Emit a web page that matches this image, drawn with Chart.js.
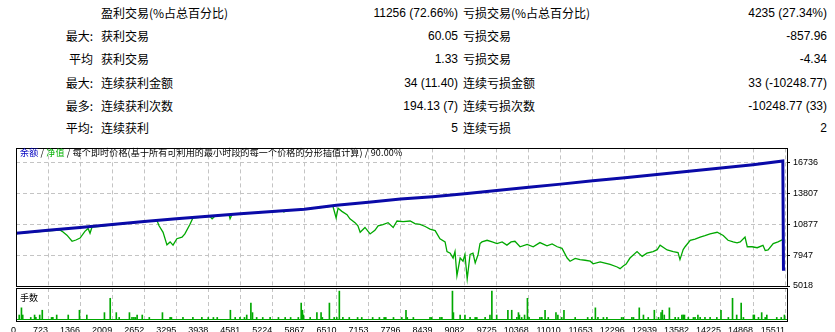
<!DOCTYPE html>
<html><head><meta charset="utf-8">
<script src="https://cdn.jsdelivr.net/npm/chart.js@4.4.1/dist/chart.umd.min.js"></script>
<style>
html,body{margin:0;padding:0;background:#fff;}
body{width:835px;height:332px;position:relative;overflow:hidden;}
.t{position:absolute;height:16px;line-height:16px;white-space:nowrap;color:#000;}
.cjk{font-family:"Noto Sans CJK SC",sans-serif;font-size:12px;}
.num{font-family:"Liberation Sans",sans-serif;font-size:12px;}
#legend{position:absolute;left:20px;top:147px;font-family:"Noto Sans CJK SC",sans-serif;font-size:9px;letter-spacing:0.15px;line-height:11px;color:#000;white-space:nowrap;z-index:5;}
#legend .b{color:#0000c0}
#legend .g{color:#00b000}
#lots{position:absolute;left:20px;top:292px;font-family:"Noto Sans CJK SC",sans-serif;font-size:9px;line-height:11px;color:#000;z-index:5;}
#mainBox{position:absolute;left:0;top:140px;width:835px;height:156px;}
#subBox{position:absolute;left:0;top:284px;width:835px;height:48px;}
canvas{display:block;}
</style></head>
<body>
<div id="stats"></div>
<div id="mainBox"><canvas id="mainC" width="835" height="156"></canvas></div>
<div id="subBox"><canvas id="subC" width="835" height="48"></canvas></div>
<div id="legend"><span class="b">余额</span> / <span class="g">净值</span> / 每个即时价格(基于所有可利用的最小时段的每一个价格的分形插值计算) / 90.00%</div>
<div id="lots">手数</div>
<script>
// ---- statistics table ----
const statPrefix = ["", "最大:", "平均", "最大:", "最多:", "平均:"];
const statLabelWin = ["盈利交易(%占总百分比)", "获利交易", "获利交易", "连续获利金额", "连续获利次数", "连续获利"];
const statValueWin = ["11256 (72.66%)", "60.05", "1.33", "34 (11.40)", "194.13 (7)", "5"];
const statLabelLoss = ["亏损交易(%占总百分比)", "亏损交易", "亏损交易", "连续亏损金额", "连续亏损次数", "连续亏损"];
const statValueLoss = ["4235 (27.34%)", "-857.96", "-4.34", "33 (-10248.77)", "-10248.77 (33)", "2"];

// ---- x axis (grid positions) and tick labels ----
const xLabels = ["0","723","1366","2009","2652","3295","3938","4581","5224","5867","6510","7153","7796","8439","9082","9725","10368","11010","11653","12296","12939","13582","14225","14868","15511"];
const yTicks = [5018, 7947, 10877, 13807, 16736];

// ---- balance ----
const balancePos = [0,1,2,3,4,5,6,7,8,9,10,11,12,13,14,15,16,17,18,19,20,21,22,23,23.93,23.95,24.0];
const balanceVal = [10026,10300,10575,10860,11140,11400,11640,11884,12090,12300,12680,12960,13270,13500,13779,14080,14390,14690,15000,15300,15610,15913,16220,16540,16892,6611,6611];

// ---- equity ----
const equityPos = [0.00,0.44,0.91,1.22,1.37,1.44,1.59,1.75,1.87,2.00,
2.15,2.25,2.31,2.37,2.62,2.93,3.25,3.56,3.87,4.18,
4.40,4.46,4.59,4.71,4.81,4.90,5.02,5.18,5.27,5.43,
5.52,5.74,6.05,6.12,6.21,6.65,6.68,6.74,7.30,7.93,
8.33,8.36,8.43,8.86,9.49,9.80,9.89,9.99,10.05,10.17,
10.33,10.42,10.58,10.67,10.74,10.89,11.05,11.20,11.30,11.45,
11.61,11.77,11.89,12.08,12.30,12.45,12.61,12.77,12.92,13.08,
13.23,13.39,13.45,13.55,13.64,13.70,13.76,13.86,13.95,14.01,
14.08,14.17,14.26,14.33,14.42,14.48,14.54,14.70,14.86,15.01,
15.17,15.32,15.45,15.57,15.73,15.95,16.14,16.35,16.57,16.73,
16.89,17.04,17.20,17.29,17.45,17.60,17.76,17.92,18.01,18.23,
18.38,18.54,18.76,18.85,18.95,19.04,19.16,19.38,19.54,19.69,
19.88,20.01,20.10,20.32,20.51,20.66,20.72,20.82,20.88,21.04,
21.19,21.35,21.50,21.66,21.88,22.07,22.22,22.38,22.50,22.60,
22.75,22.82,22.97,23.13,23.31,23.38,23.47,23.63,23.78,23.94];
const equityVal = [9990,10100,10230,10300,10340,10209,9843,9266,9385,9568,
10209,10484,10026,10600,10690,10804,10900,11000,11090,11180,
11230,10758,10117,8927,9202,8900,9504,9660,9962,10877,
11480,11540,11630,11399,11670,11780,11399,11811,11940,12060,
12140,12040,12170,12250,12470,12590,12589,11491,12406,12104,
11793,11399,11033,10731,10117,10575,9962,10300,10731,10850,
11033,10575,11188,11124,11188,10941,10877,10667,10419,10273,
9504,9202,8286,8131,7673,8286,5998,7673,7371,8012,
5695,8012,8131,7215,8012,9046,9202,9357,9202,9046,
9202,8900,9202,9266,8744,8973,8744,9138,8836,9019,
8744,8588,7673,7371,7645,7526,7462,7371,7124,7307,
7188,7069,6822,6666,6913,7096,7673,8286,7829,8131,
8286,8469,8900,8442,8286,8195,7526,8469,8744,9357,
9476,9660,9797,9962,10117,9815,9357,9202,9110,9202,
9660,8744,8744,8653,8881,8378,8442,9046,9202,9449];

// ---- lots (sub chart) ----
const volPos = [0.10,0.17,0.21,0.46,0.58,0.62,0.74,0.82,1.11,1.15,
1.27,1.63,1.98,2.21,2.76,2.94,3.13,3.22,3.54,3.62,
3.68,3.73,3.78,3.94,4.16,4.57,4.81,4.85,5.21,5.52,
5.80,6.00,6.16,6.28,6.69,6.84,6.99,7.13,7.20,7.33,
7.38,7.51,7.70,7.93,8.19,8.40,8.57,8.81,8.90,8.94,
8.97,9.18,9.39,9.52,9.56,9.78,9.93,10.01,10.09,10.20,
10.40,10.66,10.79,11.13,11.34,11.49,11.54,11.78,12.04,12.17,
12.21,12.40,12.92,12.97,13.23,13.29,13.62,13.65,13.86,14.01,
14.17,14.33,14.38,14.64,14.79,14.85,15.00,15.35,15.47,15.63,
15.68,15.71,15.78,15.87,15.96,16.01,16.35,16.41,16.51,16.61,
16.85,16.91,17.03,17.10,17.45,17.84,17.97,18.08,18.16,18.33,
18.44,18.90,18.95,19.22,19.27,19.45,19.58,19.73,19.92,20.05,
20.13,20.17,20.23,20.39,20.57,20.67,20.78,20.82,20.86,20.98,
21.14,21.19,21.28,21.35,21.50,21.66,21.87,22.00,22.23,22.36,
22.49,22.63,22.70,23.01,23.04,23.17,23.27,23.38,23.43,23.74,
23.88,23.98];
const volLots = [0.02,0.05,0.02,0.01,0.02,0.01,0.02,0.04,0.01,0.01,
0.02,0.02,0.04,0.02,0.03,0.09,0.03,0.01,0.03,0.01,
0.01,0.01,0.02,0.02,0.01,0.03,0.01,0.01,0.01,0.01,
0.01,0.01,0.01,0.01,0.04,0.01,0.01,0.01,0.02,0.07,
0.03,0.01,0.01,0.01,0.01,0.01,0.01,0.01,0.07,0.04,
0.02,0.01,0.03,0.03,0.01,0.07,0.01,0.01,0.12,0.01,
0.01,0.01,0.01,0.01,0.01,0.01,0.01,0.01,0.01,0.04,
0.01,0.01,0.01,0.01,0.01,0.01,0.12,0.03,0.02,0.02,
0.01,0.01,0.01,0.01,0.02,0.12,0.02,0.04,0.04,0.01,
0.03,0.02,0.01,0.02,0.09,0.01,0.01,0.01,0.04,0.01,
0.03,0.02,0.01,0.04,0.01,0.01,0.01,0.05,0.01,0.01,
0.01,0.01,0.01,0.01,0.01,0.05,0.02,0.01,0.04,0.01,
0.03,0.04,0.02,0.05,0.01,0.01,0.02,0.02,0.02,0.01,
0.01,0.01,0.02,0.01,0.01,0.01,0.01,0.04,0.01,0.09,
0.02,0.07,0.01,0.02,0.02,0.01,0.03,0.01,0.02,0.01,
0.01,0.02];

// ---- build stats text ----
(function(){
  const host = document.getElementById('stats');
  const rowTop = [5, 28, 51, 74.5, 98, 120];
  function add(txt, cls, style){ const d=document.createElement('div'); d.className='t '+cls; d.textContent=txt; Object.assign(d.style, style); host.appendChild(d); }
  for (let i=0;i<statPrefix.length;i++){
    const top = rowTop[i]+'px';
    if (statPrefix[i]) add(statPrefix[i],'cjk',{top, right:(835-93)+'px'});
    add(statLabelWin[i],'cjk',{top, left:'101px'});
    add(statValueWin[i],'num',{top, right:(835-458)+'px'});
    add(statLabelLoss[i],'cjk',{top, left:'463px'});
    add(statValueLoss[i],'num',{top, right:(835-827)+'px'});
  }
})();

// ---- charts ----
const BLUE = '#0a0aa8', GREEN = '#00a800', GRID = '#c4c4c4';
Chart.defaults.font.family = '"Liberation Sans", sans-serif';
Chart.defaults.font.size = 9;
Chart.defaults.color = '#000';

const boxBorder = {
  id: 'boxBorder',
  afterDraw(chart){
    const {ctx, chartArea:a} = chart;
    ctx.save();
    ctx.strokeStyle = '#000';
    ctx.lineWidth = 1;
    ctx.strokeRect(Math.round(a.left)+0.5, Math.round(a.top)+0.5, Math.round(a.right-a.left), Math.round(a.bottom-a.top));
    ctx.restore();
  }
};

const xMin = 0, xMax = 24.06;
function xGridTicks(scale){ scale.ticks = xLabels.map((_, i) => ({value: i})); }

new Chart(document.getElementById('mainC'), {
  type: 'line',
  data: {
    datasets: [
      { label: '余额', data: balancePos.map((p,i)=>({x:p, y:balanceVal[i]})), borderColor: BLUE, borderWidth: 3, pointRadius: 0, tension: 0, fill: false },
      { label: '净值', data: equityPos.map((p,i)=>({x:p, y:equityVal[i]})), borderColor: GREEN, borderWidth: 1.3, pointRadius: 0, tension: 0, fill: false }
    ]
  },
  options: {
    responsive: false, animation: false,
    layout: { padding: { left: 16, top: 3, bottom: 10, right: 0 } },
    plugins: { legend: { display: false }, tooltip: { enabled: false } },
    scales: {
      x: {
        type: 'linear', min: xMin, max: xMax, offset: false,
        afterBuildTicks: xGridTicks,
        afterFit: s => { s.height = 0; },
        ticks: { display: false },
        grid: { color: GRID, lineWidth: 1, drawTicks: false, offset: false },
        border: { display: false, dash: [4,3] }
      },
      y: {
        type: 'linear', position: 'right', min: 5018, max: 18082,
        afterBuildTicks: s => { s.ticks = yTicks.map(v => ({value: v})); },
        afterFit: s => { s.width = 48; },
        ticks: { padding: 3, callback: v => String(v), font: { size: 9 } },
        grid: { color: GRID, lineWidth: 1, drawTicks: true, tickLength: 3, tickColor: '#000' },
        border: { display: false, dash: [4,3] }
      }
    }
  },
  plugins: [boxBorder]
});

new Chart(document.getElementById('subC'), {
  type: 'bar',
  data: {
    datasets: [
      { label: '手数', data: volPos.map((p,i)=>({x:p, y:volLots[i]})), backgroundColor: GREEN, borderWidth: 0, barThickness: 1, grouped: false }
    ]
  },
  options: {
    responsive: false, animation: false,
    layout: { padding: { left: 16, top: 4, bottom: 0, right: 0 } },
    plugins: { legend: { display: false }, tooltip: { enabled: false } },
    scales: {
      x: {
        type: 'linear', min: xMin, max: xMax, offset: false,
        afterBuildTicks: xGridTicks,
        afterFit: s => { s.height = 11; },
        ticks: { align: 'end', padding: 4, maxRotation: 0, autoSkip: false, callback: v => xLabels[v], font: { size: 9 } },
        grid: { color: GRID, lineWidth: 1, drawTicks: false, offset: false },
        border: { display: false, dash: [4,3] }
      },
      y: {
        type: 'linear', position: 'right', min: -0.005, max: 0.133,
        afterBuildTicks: s => { s.ticks = [{value: 0}]; },
        afterFit: s => { s.width = 48; },
        ticks: { display: false },
        grid: { color: GREEN, lineWidth: 1, drawTicks: false },
        border: { display: false }
      }
    }
  },
  plugins: [boxBorder]
});
</script>
</body></html>
